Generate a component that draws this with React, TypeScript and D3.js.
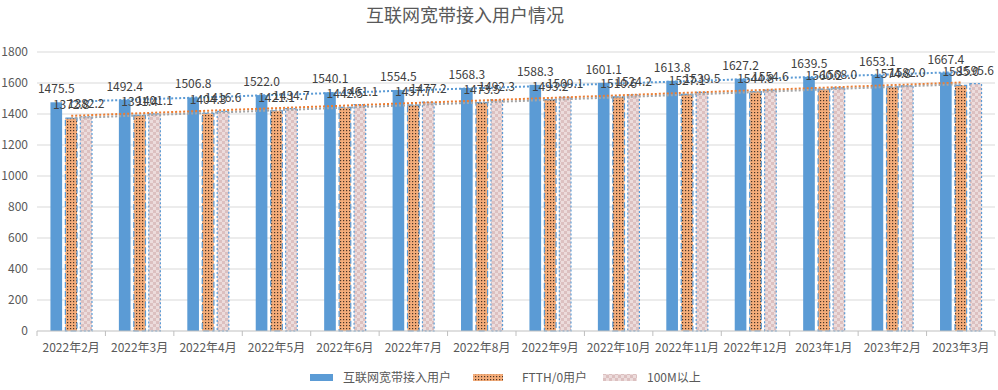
import React from 'react';
import { scaleBand, scaleLinear, line } from 'd3';

const width = 998;
const height = 390;
const marginLeft = 37;
const marginRight = 3;
const marginTop = 52;
const marginBottom = 59;

const months = ['2022年2月', '2022年3月', '2022年4月', '2022年5月', '2022年6月', '2022年7月', '2022年8月',
    '2022年9月', '2022年10月', '2022年11月', '2022年12月', '2023年1月', '2023年2月', '2023年3月'];
const broadband = [1475.5, 1492.4, 1506.8, 1522.0, 1540.1, 1554.5, 1568.3, 1588.3, 1601.1, 1613.8, 1627.2, 1639.5, 1653.1, 1667.4];
const ftth = [1372.8, 1391.4, 1404.3, 1421.1, 1442.5, 1457.7, 1473.5, 1493.2, 1510.6, 1527.1, 1544.8, 1560.2, 1574.8, 1585.0];
const over100m = [1382.2, 1401.1, 1416.6, 1434.7, 1461.1, 1477.2, 1492.3, 1509.1, 1524.2, 1539.5, 1554.6, 1568.0, 1582.0, 1595.6];
const yTicks = [0, 200, 400, 600, 800, 1000, 1200, 1400, 1600, 1800];
const seriesNames = ['互联网宽带接入用户', 'FTTH/0用户', '100M以上'];

const font = "'Noto Sans CJK SC', 'DejaVu Sans', sans-serif";

// least squares trend, like Excel's linear trendline
const fitLine = (vals: number[]) => {
    const n = vals.length;
    const xs = vals.map((_, i) => i + 1);
    const mx = xs.reduce((a, b) => a + b, 0) / n;
    const my = vals.reduce((a, b) => a + b, 0) / n;
    let num = 0, den = 0;
    xs.forEach((x, i) => { num += (x - mx) * (vals[i] - my); den += (x - mx) * (x - mx); });
    const slope = num / den;
    return (i: number) => my + slope * (i + 1 - mx);
};

const App = () => {
    const x = scaleBand().domain(months).range([marginLeft, width - marginRight]).padding(0);
    const y = scaleLinear().domain([0, 1800]).range([height - marginBottom, marginTop]);
    const inner = scaleBand().domain(['0', '1', '2']).range([0, x.bandwidth()]).paddingInner(0.22).paddingOuter(0.9);

    const series = [broadband, ftth, over100m];
    const fills = ['#5b9bd5', 'url(#dots)', 'url(#checks)'];
    const trendColors = ['#5b9bd5', '#a5a5a5', '#ed7d31'];
    const trendOrder = [0, 2, 1];

    const trendPath = line<number>()
        .x((_, i) => (x(months[i]) as number) + x.bandwidth() / 2)
        .y(d => y(d));

    return (
        <svg width={width} height={height} style={{ position: 'absolute', left: 0, top: 0, fontFamily: font }}>
            <defs>
                <pattern id="dots" width="3" height="3" patternUnits="userSpaceOnUse">
                    <rect width="3" height="3" fill="#f5ad7a" />
                    <rect x="1" y="1" width="1.2" height="1.2" fill="#4a3426" />
                </pattern>
                <pattern id="checks" width="6" height="6" patternUnits="userSpaceOnUse">
                    <rect width="6" height="6" fill="#dcc0c0" />
                    <rect width="3" height="3" fill="#ecdcdc" />
                    <rect x="3" y="3" width="3" height="3" fill="#ecdcdc" />
                </pattern>
            </defs>
            <rect width={width} height={height} fill="#ffffff" />
            <text x={465} y={22} textAnchor="middle" fontSize={18} fill="#595959">
                互联网宽带接入用户情况
            </text>
            {yTicks.map(t => (
                <g key={t}>
                    {t > 0 && <line x1={marginLeft} x2={width - marginRight} y1={y(t)} y2={y(t)} stroke="#d9d9d9" strokeWidth={1} />}
                    <text x={28} y={y(t)} dy="0.35em" textAnchor="end" fontSize={12} fill="#595959">{t}</text>
                </g>
            ))}
            {series.map((vals, s) => vals.map((v, i) => {
                const bx = (x(months[i]) as number) + (inner(String(s)) as number);
                const bw = inner.bandwidth();
                return (
                    <rect key={`${s}-${i}`} x={bx} y={y(v)} width={bw} height={y(0) - y(v)} fill={fills[s]}
                        stroke={s === 0 ? 'none' : '#5b9bd5'} strokeWidth={s === 0 ? 0 : 1.2}
                        strokeDasharray={s === 1 ? '6,3' : s === 2 ? '2,2' : undefined} />
                );
            }))}
            {trendOrder.map(s => {
                const f = fitLine(series[s]);
                return (
                    <path key={`t${s}`} d={trendPath(series[s].map((_, i) => f(i))) as string} fill="none"
                        stroke={trendColors[s]} strokeWidth={2} strokeDasharray="2,2" />
                );
            })}
            {series.map((vals, s) => vals.map((v, i) => {
                const cx = (x(months[i]) as number) + (inner(String(s)) as number) + inner.bandwidth() / 2;
                return (
                    <text key={`l${s}-${i}`} x={cx} y={y(v) - 9} textAnchor="middle" fontSize={12} fill="#404040">
                        {v.toFixed(1)}
                    </text>
                );
            }))}
            <line x1={marginLeft} x2={width - marginRight} y1={y(0)} y2={y(0)} stroke="#bfbfbf" />
            {months.map((m, i) => (
                <g key={m}>
                    <line x1={(x(m) as number)} x2={(x(m) as number)} y1={y(0)} y2={y(0) + 5} stroke="#bfbfbf" />
                    <text x={(x(m) as number) + x.bandwidth() / 2} y={y(0) + 21} textAnchor="middle" fontSize={12} fill="#595959">{m}</text>
                </g>
            ))}
            <line x1={width - marginRight} x2={width - marginRight} y1={y(0)} y2={y(0) + 5} stroke="#bfbfbf" />
            {seriesNames.map((name, s) => {
                const lx = [310, 473, 603][s];
                const lw = [23, 30, 34][s];
                return (
                    <g key={name}>
                        <rect x={lx} y={374} width={lw} height={7} fill={fills[s]} />
                        <text x={lx + lw + (s === 1 ? 19 : 10)} y={378} dy="0.35em" fontSize={12} fill="#595959">{name}</text>
                    </g>
                );
            })}
        </svg>
    );
};

export default App;
